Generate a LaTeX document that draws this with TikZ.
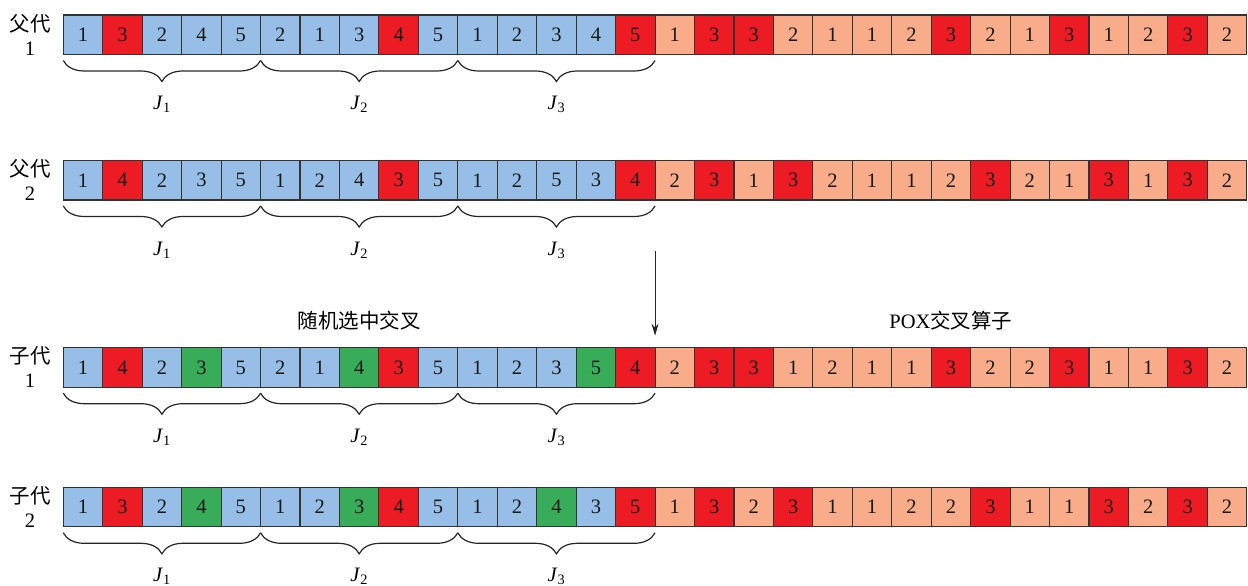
\documentclass[tikz,border=0pt]{standalone}
\usepackage{fontspec}
\setmainfont{Liberation Serif}
\newfontfamily\cjk{Noto Sans CJK SC}
\usetikzlibrary{positioning, arrows.meta, decorations.pathreplacing}

\definecolor{cb}{RGB}{150,190,230}
\definecolor{cr}{RGB}{237,28,36}
\definecolor{cs}{RGB}{248,172,138}
\definecolor{cg}{RGB}{56,172,88}

\tikzset{
  gene/.style={rectangle, draw=black!80, line width=1.1pt, minimum width=39.45pt, minimum height=39.5pt, inner sep=0pt, outer sep=0pt, font=\fontsize{20.5}{20.5}\selectfont, text=black!90},
  rowlab/.style={align=center, inner sep=0pt, font=\fontsize{20.5}{24}\selectfont},
  jbrace/.style={decorate, decoration={brace, mirror, amplitude=21pt}, line width=1.2pt, draw=black!85},
  jlab/.style={midway, below=35pt, inner sep=0pt, font=\fontsize{20.5}{20.5}\selectfont},
  title/.style={inner sep=0pt, font=\fontsize{20.5}{24}\selectfont}
}

\begin{document}
\begin{tikzpicture}[x=1pt, y=-1pt]
  \useasboundingbox (0,0) rectangle (1248,586);

  % chromosomes
  \foreach \row/\ytop/\gen/\num/\genes in {
    p1/15/父代/1/{1/b,3/r,2/b,4/b,5/b,2/b,1/b,3/b,4/r,5/b,1/b,2/b,3/b,4/b,5/r,1/s,3/r,3/r,2/s,1/s,1/s,2/s,3/r,2/s,1/s,3/r,1/s,2/s,3/r,2/s},
    p2/160.5/父代/2/{1/b,4/r,2/b,3/b,5/b,1/b,2/b,4/b,3/r,5/b,1/b,2/b,5/b,3/b,4/r,2/s,3/r,1/s,3/r,2/s,1/s,1/s,2/s,3/r,2/s,1/s,3/r,1/s,3/r,2/s},
    c1/347.7/子代/1/{1/b,4/r,2/b,3/g,5/b,2/b,1/b,4/g,3/r,5/b,1/b,2/b,3/b,5/g,4/r,2/s,3/r,3/r,1/s,2/s,1/s,1/s,3/r,2/s,2/s,3/r,1/s,1/s,3/r,2/s},
    c2/487.3/子代/2/{1/b,3/r,2/b,4/g,5/b,1/b,2/b,3/g,4/r,5/b,1/b,2/b,4/g,3/b,5/r,1/s,3/r,2/s,3/r,1/s,1/s,2/s,2/s,3/r,1/s,1/s,3/r,2/s,3/r,2/s}}
  {
    \foreach \v/\c [count=\i] in \genes
      \node[gene, fill=c\c] (\row-\i) at ({63.3+(\i-0.5)*39.45}, {\ytop+19.75}) {\v};
    \node[rowlab, left=12.5pt of \row-1] (\row-lab) {{\cjk\gen}\\\num};
    \foreach \a/\b/\k in {1/5/1, 6/10/2, 11/15/3}
      \draw[jbrace] ([yshift=-6pt]\row-\a.south west) -- ([yshift=-6pt]\row-\b.south east)
        node[jlab] (\row-J\k) {\textit{J}\textsubscript{\k}};
  }

  \node[title, above=17pt of c1-8] (cross) {{\cjk 随机选中交叉}};
  \node[title, above=17pt of c1-23] (pox) {POX{\cjk 交叉算子}};

  \coordinate[below=51pt of p2-15.south east] (xtop);
  \coordinate[above=12pt of c1-15.north east] (xbot);
  \draw[-{Stealth[length=12pt, width=7pt]}, line width=1.1pt, black!85] (xtop) -- (xbot);
\end{tikzpicture}
\end{document}
